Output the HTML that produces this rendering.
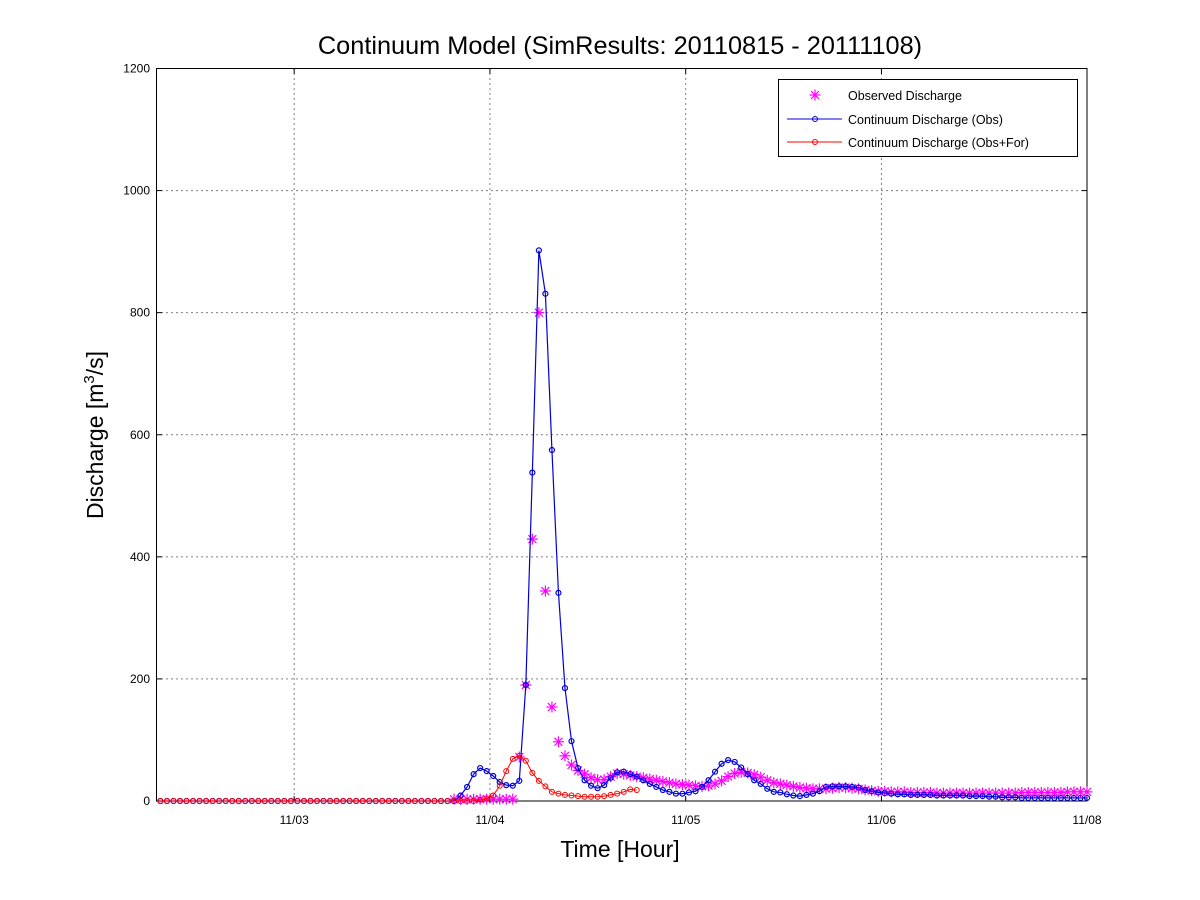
<!DOCTYPE html>
<html><head><meta charset="utf-8">
<style>
html,body{margin:0;padding:0;background:#fff;}
svg{display:block;font-family:"Liberation Sans",Arial,sans-serif;}
</style></head>
<body>
<svg id="chart" width="1200" height="900" viewBox="0 0 1200 900"></svg>
<script>
const yTicks = [0,200,400,600,800,1000,1200];
const xTickPos = [20.5,50.5,80.5,110.5,142];
const xTickLabels = ["11/03","11/04","11/05","11/06","11/08"];
const observed = [].concat(
  new Array(45).fill(null),
  [3,3,3,3,3,3,3,3,3,3,72,190,429,800,344,154,97,74,59],
  [50,44,38,35,35,40,45,44,42,40,38,36,34,32,30,28,27,26,25,24,25,28,33,40,45,47,46,43,39,34,30,28,26,24,22,21,20,20,20,21,22,22,21],
  [20,18,17,16,16,15,15,15,14,14,14,14,13,13,13,13,13,13,13,13,13,13,13,13,13,14,14,14,14,14,14,14,15,15,15,15]
);
const simObs = [].concat(
  new Array(46).fill(0),
  [9,23,44,54,49,41,31,26,25,33,190,538,902,831,575,341,185],
  [98,54,34,25,21,26,38,47,48,44,40,34,28,23,18,15,12,12,14,16,23,34,48,61,67,64,55,44,34,28,20,15,14,11,9,8,10,12,16,23,24],
  [24,24,23,22,18,16,14,13,12,11,11,10,10,10,10,9,9,9,9,9,8,8,8,7,7,6,6,6,5,5,5,5,5,5,5,5,5,5,5]
);
const simFor = [].concat(
  new Array(49).fill(0),
  [2,4,9,25,49,69,74,66,46,33,24,15,12,10,9,8,7,7,7,8,10,12,15,19,18]
);

const NS="http://www.w3.org/2000/svg";
const svg=document.getElementById('chart');
const L=156.5,R=1087,T=68.5,B=801;
const xMin=-0.6,xMax=142;
function X(i){return L+(i-xMin)/(xMax-xMin)*(R-L);}
function Y(v){return B-v/1200*(B-T);}
function mk(tag,attrs,parent){const e=document.createElementNS(NS,tag);for(const k in attrs)e.setAttribute(k,attrs[k]);(parent||svg).appendChild(e);return e;}

const grid=mk('g',{});


yTicks.forEach(v=>{
  if(v>0&&v<1200) mk('line',{x1:L,x2:R,y1:Y(v),y2:Y(v),stroke:'#000','stroke-width':1,'stroke-dasharray':'1,4'},grid);
  mk('line',{x1:L,x2:L+5,y1:Y(v),y2:Y(v),stroke:'#000'},grid);
  mk('line',{x1:R,x2:R-5,y1:Y(v),y2:Y(v),stroke:'#000'},grid);
  const t=mk('text',{x:150,y:Y(v)+4,'text-anchor':'end','font-size':12,fill:'#000'});
  t.textContent=v;
  
  
});
xTickPos.forEach((p,k)=>{
  const x=X(p);
  if(k<xTickPos.length-1) mk('line',{x1:x,x2:x,y1:T,y2:B,stroke:'#000','stroke-width':1,'stroke-dasharray':'1,4'},grid);
  mk('line',{x1:x,x2:x,y1:B,y2:B-5,stroke:'#000'},grid);
  mk('line',{x1:x,x2:x,y1:T,y2:T+5,stroke:'#000'},grid);
  const t=mk('text',{x:x,y:824,'text-anchor':'middle','font-size':12,fill:'#000'});
  t.textContent=xTickLabels[k];
  
  
});
const frame=mk('rect',{x:L,y:T,width:R-L,height:B-T,fill:'none',stroke:'#000','stroke-width':1});



function star(g,x,y,c,s){
  mk('line',{x1:x-s,x2:x+s,y1:y,y2:y,stroke:c,'stroke-width':1.2},g);
  mk('line',{x1:x,x2:x,y1:y-s,y2:y+s,stroke:c,'stroke-width':1.2},g);
  const d=s*0.72;
  mk('line',{x1:x-d,x2:x+d,y1:y-d,y2:y+d,stroke:c,'stroke-width':1.2},g);
  mk('line',{x1:x-d,x2:x+d,y1:y+d,y2:y-d,stroke:c,'stroke-width':1.2},g);
}
const go=mk('g',{});


observed.forEach((v,i)=>{if(v!==null)star(go,X(i),Y(v),'#ff00ff',5.5);});

function series(arr,color,name,w){
  const g=mk('g',{});
  
  
  mk('polyline',{points:arr.map((v,i)=>X(i)+','+Y(v)).join(' '),fill:'none',stroke:color,'stroke-width':w},g);
  arr.forEach((v,i)=>mk('circle',{cx:X(i),cy:Y(v),r:2.5,fill:'none',stroke:color,'stroke-width':w},g));
}
series(simObs,'#0000dd','sim-obs-series',1.2);
series(simFor,'#ff0000','sim-obsfor-series',1);

const lg=mk('g',{});


mk('rect',{x:778.5,y:79.5,width:299,height:77,fill:'#fff',stroke:'#000'},lg);
star(lg,815,95,'#ff00ff',5.5);
mk('line',{x1:787,x2:842,y1:119,y2:119,stroke:'#0000dd'},lg);
mk('circle',{cx:815,cy:119,r:2.5,fill:'none',stroke:'#0000dd'},lg);
mk('line',{x1:787,x2:842,y1:142,y2:142,stroke:'#ff0000'},lg);
mk('circle',{cx:815,cy:142,r:2.5,fill:'none',stroke:'#ff0000'},lg);
[['Observed Discharge',100],['Continuum Discharge (Obs)',124],['Continuum Discharge (Obs+For)',147]].forEach(a=>{
  const t=mk('text',{x:848,y:a[1],'font-size':12.5,fill:'#000'},lg);
  t.textContent=a[0];
  
  
});
</script>
<svg style="position:absolute;left:0;top:0" width="1200" height="900">
<text x="620" y="54" text-anchor="middle" font-size="25.3" font-family="Liberation Sans, sans-serif">Continuum Model (SimResults: 20110815 - 20111108)</text>
<text x="620" y="857" text-anchor="middle" font-size="23" font-family="Liberation Sans, sans-serif">Time [Hour]</text>
<text transform="translate(103,435) rotate(-90)" text-anchor="middle" font-size="23" font-family="Liberation Sans, sans-serif">Discharge [m<tspan dy="-9" font-size="15">3</tspan><tspan dy="9">/s]</tspan></text>
</svg>
</body></html>
